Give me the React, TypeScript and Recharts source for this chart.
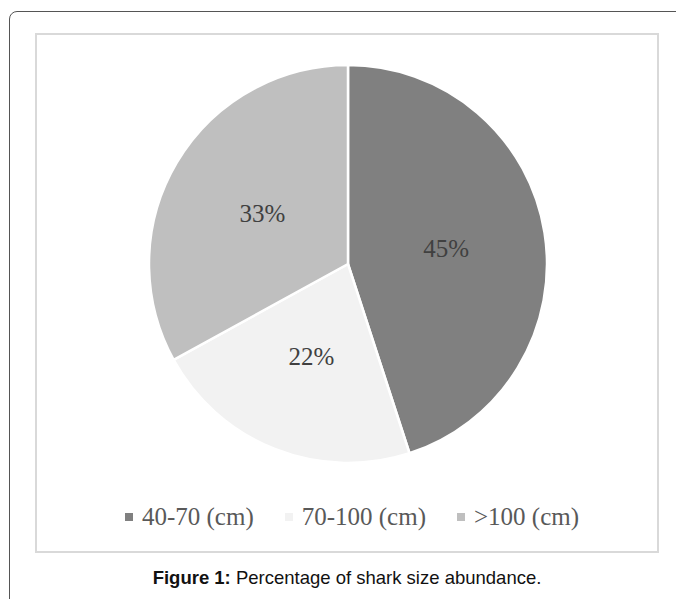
import React from "react";
import { PieChart, Pie, Cell, Legend } from "recharts";

const categories = ["40-70 (cm)", "70-100 (cm)", ">100 (cm)"];
const shares = [45, 22, 33];

const colors = ["#808080", "#f2f2f2", "#bfbfbf"];

const data = categories.map((name, i) => ({ name, value: shares[i] }));

const RADIAN = Math.PI / 180;

const renderLabel = (props: any) => {
  const { cx, cy, midAngle, outerRadius, value } = props;
  const r = outerRadius * 0.5;
  const x = cx + r * Math.cos(-midAngle * RADIAN);
  const y = cy + r * Math.sin(-midAngle * RADIAN);
  return (
    <text
      x={x}
      y={y}
      fill="#404040"
      textAnchor="middle"
      dominantBaseline="central"
      fontFamily="'Liberation Serif', 'Times New Roman', serif"
      fontSize={25}
    >
      {`${value}%`}
    </text>
  );
};

const renderLegend = (props: any) => {
  const { payload } = props;
  return (
    <div
      style={{
        display: "flex",
        justifyContent: "center",
        alignItems: "center",
        paddingLeft: 10,
        fontFamily: "'Liberation Serif', 'Times New Roman', serif",
        fontSize: 25,
        lineHeight: "29px",
        color: "#595959",
      }}
    >
      {(payload || []).map((entry: any, i: number) => (
        <div
          key={`leg-${i}`}
          style={{ display: "flex", alignItems: "center", marginLeft: i === 0 ? 0 : 31 }}
        >
          <span
            style={{
              display: "inline-block",
              width: 8,
              height: 8,
              background: colors[i % colors.length],
              marginRight: 9,
            }}
          />
          <span>{entry.value}</span>
        </div>
      ))}
    </div>
  );
};

export default function App() {
  return (
    <div style={{ position: "absolute", left: 0, top: 0, width: 676, height: 599, overflow: "hidden", background: "#fff" }}>
      <div
        style={{
          position: "absolute",
          left: 9,
          top: 11,
          width: 720,
          height: 700,
          border: "1.5px solid #555",
          borderRadius: 8,
        }}
      />
      <div
        style={{
          position: "absolute",
          left: 35,
          top: 33,
          width: 620,
          height: 516,
          border: "2px solid #d9d9d9",
        }}
      >
        <PieChart width={620} height={516} margin={{ top: 0, right: 0, bottom: 0, left: 0 }}>
          <Pie
            data={data}
            dataKey="value"
            nameKey="name"
            cx={311}
            cy={229}
            outerRadius={199}
            startAngle={90}
            endAngle={-270}
            stroke="#ffffff"
            strokeWidth={2.5}
            label={renderLabel}
            labelLine={false}
            isAnimationActive={false}
          >
            {data.map((entry, i) => (
              <Cell key={`cell-${i}`} fill={colors[i % colors.length]} />
            ))}
          </Pie>
          <Legend
            content={renderLegend}
            wrapperStyle={{ position: "absolute", top: 467, left: 0, width: 620 }}
          />
        </PieChart>
      </div>
      <div
        style={{
          position: "absolute",
          left: 35,
          top: 567,
          width: 624,
          textAlign: "center",
          fontFamily: "'Liberation Sans', Arial, sans-serif",
          fontSize: 18.5,
          lineHeight: "22px",
          color: "#111",
        }}
      >
        <b>Figure 1:</b> Percentage of shark size abundance.
      </div>
    </div>
  );
}
